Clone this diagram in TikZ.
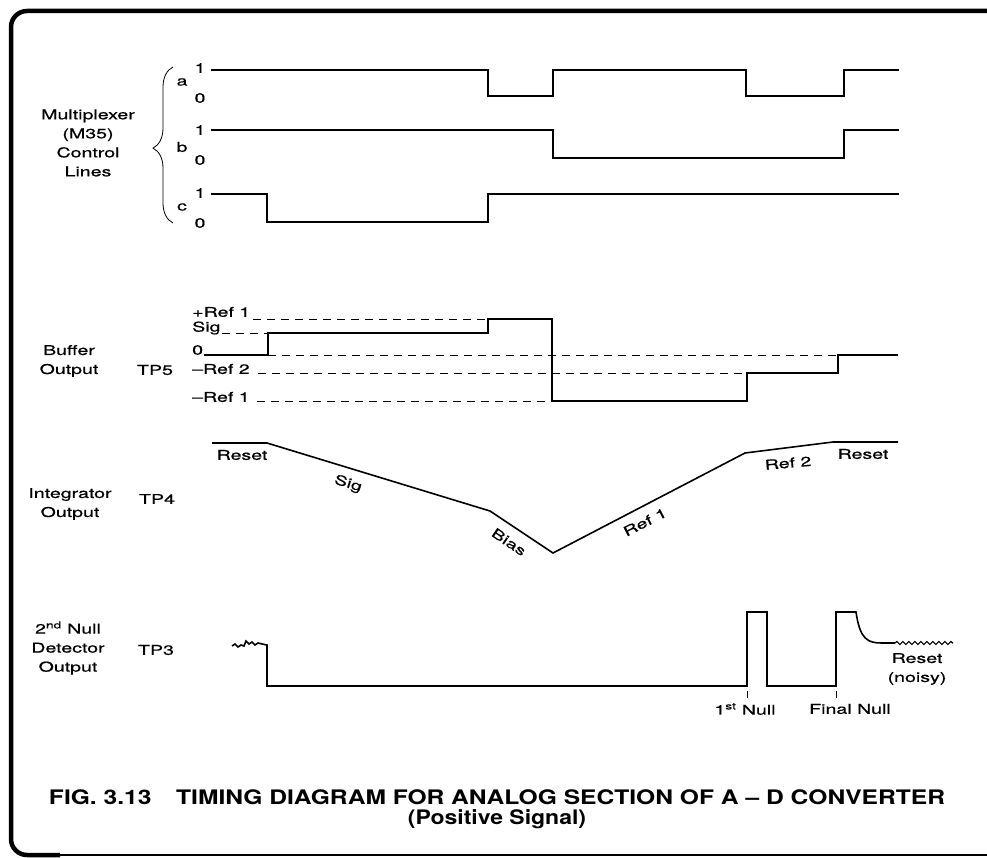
\documentclass[tikz,border=0pt]{standalone}
\usepackage{graphicx}
\usepackage{fontspec}
\newfontfamily\lblfont[Ligatures=TeX, FakeStretch=1.45, FakeBold=0.6]{TeX Gyre Heros}
\newfontfamily\capfont[Ligatures=TeX]{TeX Gyre Heros}
\usetikzlibrary{decorations.pathreplacing,decorations.pathmorphing}

\tikzset{
  wave/.style={line width=1.6pt},
  level/.style={dash pattern=on 8pt off 6pt, line width=0.9pt},
  lbl/.style={font=\lblfont\fontsize{13.5}{19}\selectfont, inner sep=0pt, align=center},
  capt/.style={font=\capfont\bfseries\fontsize{20}{22}\selectfont, inner sep=0pt},
}

\begin{document}
\begin{tikzpicture}[x=1pt, y=-1pt]
        \useasboundingbox (0,0) rectangle (987,858);

        % Frame
        \draw[line width=4.5pt, rounded corners=16pt] (995,11) -- (11,11) -- (11,855) -- (60,855);
        \draw[line width=2.5pt] (50,855) -- (995,855);

        % Multiplexer control lines
        \node[lbl] (mux) at (88,143) {Multiplexer\\(M35)\\Control\\Lines};
        \draw[line width=0.8pt, decorate, decoration={brace, amplitude=20pt, aspect=0.48}] (173,223) -- (173,67);
        \node[lbl] (la) at (182,82) {a};
        \node[lbl] (lb) at (182,147) {b};
        \node[lbl] (lc) at (182,207) {c};
        \node[lbl] (a1) at (200,68) {1};
        \node[lbl] (a0) at (200,98) {0};
        \node[lbl] (b1) at (200,130) {1};
        \node[lbl] (b0) at (200,160) {0};
        \node[lbl] (c1) at (200,193) {1};
        \node[lbl] (c0) at (200,223) {0};
        \draw[wave] (211,70) -- (488,70) -- (488,96) -- (553,96) -- (553,70) -- (746,70) -- (746,96) -- (844,96) -- (844,70) -- (899,70);
        \draw[wave] (211,130) -- (553,130) -- (553,158) -- (844,158) -- (844,130) -- (899,130);
        \draw[wave] (211,194) -- (267,194) -- (267,222) -- (488,222) -- (488,194) -- (899,194);

        % Buffer output
        \node[lbl] (buf) at (69,361) {Buffer\\Output};
        \node[lbl] (tp5) at (155,370) {TP5};
        \node[lbl, anchor=west] (pref1) at (192,312) {+Ref 1};
        \node[lbl, anchor=west] (sig) at (192,328) {Sig};
        \node[lbl, anchor=west] (zero) at (192,350) {0};
        \node[lbl, anchor=west] (mref2) at (192,369) {--Ref 2};
        \node[lbl, anchor=west] (mref1) at (192,397) {--Ref 1};
        \draw[level] (253,319) -- (488,319);
        \draw[level] (222,333) -- (268,333);
        \draw[level] (268,355) -- (838,355);
        \draw[level] (258,373) -- (747,373);
        \draw[level] (257,401) -- (552,401);
        \draw[wave] (204,355) -- (268,355) -- (268,333) -- (488,333) -- (488,319) -- (552,319) -- (552,401) -- (747,401) -- (747,373) -- (838,373) -- (838,355) -- (898,355);

        % Integrator output
        \node[lbl] (integ) at (70,504) {Integrator\\Output};
        \node[lbl] (tp4) at (157,499) {TP4};
        \draw[wave] (212,443) -- (267,443) -- (490,511) -- (553,553) -- (745,453) -- (833,442) -- (898,442);
        \node[lbl] (rst1) at (242,455) {Reset};
        \node[lbl, rotate=-17] (isig) at (348,484) {Sig};
        \node[lbl, rotate=-34] (bias) at (509,542) {Bias};
        \node[lbl, rotate=27] (iref1) at (645,522) {Ref 1};
        \node[lbl, rotate=5] (iref2) at (788,463) {Ref 2};
        \node[lbl] (rst2) at (863,454) {Reset};

        % 2nd null detector output
        \node[lbl] (null) at (68,648) {2\textsuperscript{nd} Null\\Detector\\Output};
        \node[lbl] (tp3) at (156,650) {TP3};
        \draw[wave] (232,646) -- (235,644) -- (238,647) -- (241,645) -- (244,646) -- (246,641) -- (249,644) -- (252,642) -- (255,645) -- (258,643) -- (262,644) -- (267,645)
          -- (267,686) -- (747,686) -- (747,612) -- (767,612) -- (767,686) -- (836,686) -- (836,612) -- (856,612)
          .. controls (860,640) and (868,643) .. (882,643) -- (895,643);
        \draw[wave, line width=1.2pt, decorate, decoration={snake, amplitude=1.5pt, segment length=6pt}] (895,643) -- (953,643);
        \draw[line width=0.8pt] (747,691) -- (747,698);
        \draw[line width=0.8pt] (836,691) -- (836,698);
        \node[lbl] (first) at (745,709) {1\textsuperscript{st} Null};
        \node[lbl] (final) at (850,709) {Final Null};
        \node[lbl] (rstn) at (917,669) {Reset\\(noisy)};

        % Caption
        \node[capt] (cap1) at (497,797) {\scalebox{1.23}[1]{FIG. 3.13\quad TIMING DIAGRAM FOR ANALOG SECTION OF A -- D CONVERTER}};
        \node[capt] (cap2) at (497,819) {\scalebox{1.15}[1]{(Positive Signal)}};
    \end{tikzpicture}
\end{document}
